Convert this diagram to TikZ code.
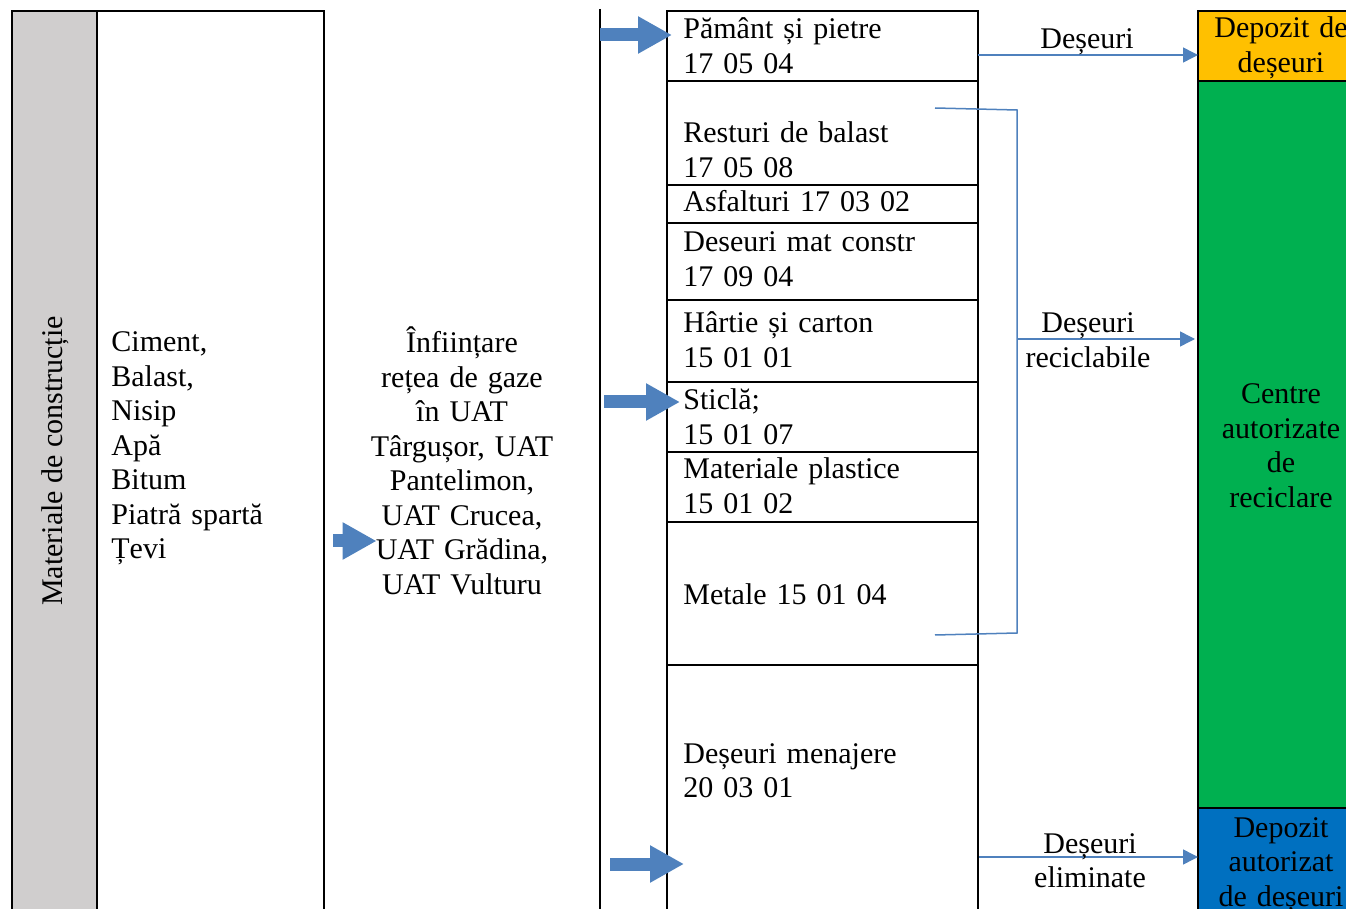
\documentclass[tikz,border=0pt]{standalone}
\usepackage{fontspec}
\setmainfont{Liberation Serif}
\usetikzlibrary{arrows.meta}
\definecolor{colgray}{HTML}{D0CECE}
\definecolor{depo}{HTML}{FFC000}
\definecolor{recic}{HTML}{00B050}
\definecolor{elim}{HTML}{0070C0}
\definecolor{arrblue}{HTML}{4F81BD}
\tikzset{
  txt/.style={inner sep=0pt, font=\fontsize{15}{17.25}\selectfont, align=left},
  rowtxt/.style={txt, anchor=base west, text width=150pt},
  midtxt/.style={txt, anchor=base, align=center, text width=100pt},
  col/.style={draw, line width=0.9pt, anchor=north west, inner sep=0pt, outer sep=0pt, minimum height=480pt},
  cell/.style={draw, line width=0.9pt, anchor=north west, inner sep=0pt, outer sep=0pt, minimum width=155.5pt},
  colbox/.style={draw, line width=0.9pt, anchor=north west, inner sep=0pt, outer sep=0pt, minimum width=83pt},
  bigarrow/.style={arrblue, line width=6.5pt, -{Triangle[length=17pt,width=17.5pt]}},
  thin/.style={arrblue, line width=0.75pt},
  thinarrow/.style={thin, -{Triangle[length=7.5pt,width=7.5pt]}},
}

\begin{document}
\begin{tikzpicture}[x=0.5pt,y=-0.5pt]
  \useasboundingbox (0,0) rectangle (1346,909);
  % left columns
  \node[col, fill=colgray, minimum width=42.5pt] (matcol) at (12,11) {};
  \node[col, minimum width=113.5pt] (listcol) at (97,11) {};
  \draw[line width=0.9pt] (600,9) -- (600,960);
  \node[txt, rotate=90] (mat) at (55,461) {Materiale de construcție};
  \node[rowtxt, text width=100pt] (list) at (111,352)
    {Ciment,\\Balast,\\Nisip\\Apă\\Bitum\\Piatră spartă\\Țevi};
  \node[midtxt] (proj) at (462,353)
    {Înființare\\rețea de gaze\\în UAT\\Târgușor, UAT\\Pantelimon,\\UAT Crucea,\\UAT Grădina,\\UAT Vulturu};

  % waste cells
  \node[cell, minimum height=35pt] (c1) at (667,11) {};
  \node[cell, minimum height=52pt] (c2) at (c1.south west) {};
  \node[cell, minimum height=19pt] (c3) at (c2.south west) {};
  \node[cell, minimum height=38.5pt] (c4) at (c3.south west) {};
  \node[cell, minimum height=41pt] (c5) at (c4.south west) {};
  \node[cell, minimum height=35pt] (c6) at (c5.south west) {};
  \node[cell, minimum height=35pt] (c7) at (c6.south west) {};
  \node[cell, minimum height=71.5pt] (c8) at (c7.south west) {};
  \node[cell, minimum height=150pt] (c9) at (c8.south west) {};

  \node[rowtxt] (t1) at (683,39) {Pământ și pietre\\17 05 04};
  \node[rowtxt] (t2) at (683,143) {Resturi de balast\\17 05 08};
  \node[rowtxt] (t3) at (683,212) {Asfalturi 17 03 02};
  \node[rowtxt] (t4) at (683,252) {Deseuri mat constr\\17 09 04};
  \node[rowtxt] (t5) at (683,333) {Hârtie și carton\\15 01 01};
  \node[rowtxt] (t6) at (683,410) {Sticlă;\\15 01 07};
  \node[rowtxt] (t7) at (683,479) {Materiale plastice\\15 01 02};
  \node[rowtxt] (t8) at (683,604) {Metale 15 01 04};
  \node[rowtxt] (t9) at (683,763) {Deșeuri menajere\\20 03 01};

  % destinations
  \node[colbox, fill=depo, minimum height=35pt] (depo) at (1198,11) {};
  \node[colbox, fill=recic, minimum height=363.5pt] (rec) at (depo.south west) {};
  \node[colbox, fill=elim, minimum height=100pt] (elim) at (rec.south west) {};
  \node[midtxt] (depotxt) at (1281,38) {Depozit de\\deșeuri};
  \node[midtxt] (rectxt) at (1281,404) {Centre\\autorizate\\de\\reciclare};
  \node[midtxt] (elimtxt) at (1281,837) {Depozit\\autorizat\\de deșeuri};

  % block arrows
  \coordinate (a1) at (600,35);
  \coordinate (a2) at (604,402);
  \coordinate (a3) at (610,864);
  \coordinate (a4) at (333,541);
  \draw[bigarrow] (a1) -- ([xshift=2.5pt]a1 -| c1.west);
  \draw[bigarrow] (a2) -- ([xshift=-1.5pt]a2 -| t6.west);
  \draw[bigarrow] (a3) -- ([xshift=8.5pt]a3 -| c9.west);
  \draw[bigarrow] (a4) -- ([xshift=7.5pt]a4 -| proj.west);

  % thin connectors
  \coordinate (d1) at (978,55);
  \draw[thinarrow] (d1) -- (d1 -| depo.west);
  \node[midtxt] (lbl1) at (1087,49) {Deșeuri};

  \coordinate (brtop) at (935,108);
  \coordinate (brbot) at (935,635);
  \coordinate (brmid) at (1017,339);
  \draw[thin] (brtop) -- (1017,110) -- (1017,633) -- (brbot);
  \draw[thinarrow] (brmid) -- ([xshift=-1.5pt]brmid -| rec.west);
  \node[midtxt] (lbl2) at (1088,333) {Deșeuri\\reciclabile};

  \coordinate (e1) at (979,857);
  \draw[thinarrow] (e1) -- (e1 -| elim.west);
  \node[midtxt] (lbl3) at (1090,853) {Deșeuri\\eliminate};
\end{tikzpicture}
\end{document}
